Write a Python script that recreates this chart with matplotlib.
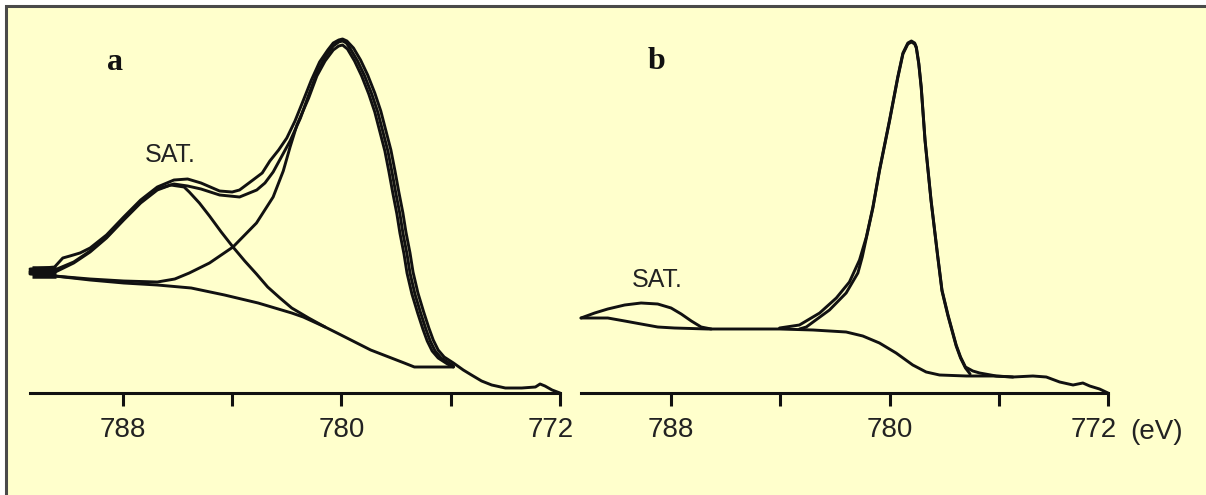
import matplotlib
matplotlib.use("Agg")
import matplotlib.pyplot as plt
from matplotlib.patches import Rectangle
from matplotlib.transforms import ScaledTranslation

W, H = 1206, 495
CREAM = "#FFFFCC"
INK = "#111111"

# ---- panel a : binding energy (eV) / intensity (arb.) ----
data_a_ev = [791.4, 790.9, 790.5, 790.2, 789.94, 789.57, 789.2, 788.6, 787.97, 787.35,
             786.74, 786.13, 785.63, 785.14, 784.46, 784.0, 783.73, 783.24, 782.9, 782.62,
             782.3, 782.0, 781.7, 781.39, 781.1, 780.8, 780.5, 780.3, 780.1, 779.96,
             779.8, 779.56, 779.3, 779.04, 778.78, 778.56, 778.38, 778.19, 778.04, 777.9,
             777.75, 777.64, 777.49, 777.38, 777.2, 776.99, 776.8, 776.64, 776.46, 776.24,
             775.9, 775.54, 775.24, 774.87, 774.5, 774.0, 773.4, 772.9, 772.73, 772.55,
             772.29, 772.0]
data_a_int = [124, 125, 126, 135, 137, 140, 145, 158, 176, 193,
              206, 213, 214, 210, 202, 201, 203, 213, 220, 232,
              243, 255, 272, 293, 313, 331, 343, 350, 353, 354,
              352, 345, 333, 318, 300, 282, 263, 243, 222, 201,
              180, 161, 140, 121, 100, 81, 65, 53, 43, 36,
              30, 23, 18, 12, 8, 5, 5, 6, 9, 7,
              3, 0]

fit_a_ev = [791.4, 790.5, 789.8, 789.2, 788.6, 787.97, 787.35, 786.74, 786.13, 785.63,
            785.14, 784.46, 783.73, 783.1, 782.8, 782.5, 782.2, 781.88, 781.5, 781.2,
            780.9, 780.6, 780.3, 780.1, 779.96, 779.82, 779.67, 779.41,
            779.15, 778.89, 778.67, 778.49, 778.3, 778.15, 778.01, 777.86, 777.75, 777.6,
            777.49, 777.31, 777.1, 776.91, 776.75, 776.57, 776.35, 776.01, 775.9]
fit_a_int = [122, 123, 131, 142, 156, 174, 191, 204, 209, 207,
             204, 198, 196, 203, 210, 221, 236, 252, 275, 298,
             320, 336, 347, 351, 352, 350, 344, 332,
             317, 299, 281, 262, 242, 221, 200, 179, 160, 139,
             120, 99, 80, 64, 52, 42, 35, 29, 27]

main_a_ev = [791.4, 790.5, 789.2, 787.97, 786.74, 786.1, 785.57, 784.83, 783.97, 783.11,
             782.5, 782.13, 781.88, 781.63, 781.2, 780.9, 780.6, 780.3, 780.1, 779.96,
             779.78, 779.52, 779.26, 779.0, 778.78, 778.6, 778.41, 778.26, 778.12, 777.97,
             777.86, 777.71, 777.6, 777.42, 777.21, 777.02, 776.86, 776.68, 776.46, 776.12,
             775.9]
main_a_int = [119, 117, 114, 112, 111, 114, 120, 130, 146, 170,
              196, 222, 246, 268, 295, 317, 332, 343, 347, 348,
              344, 332, 317, 299, 281, 262, 242, 221, 200, 179,
              160, 139, 120, 99, 80, 64, 52, 42, 35, 29,
              26]

sat_a_ev = [791.4, 790.55, 789.8, 789.2, 788.6, 787.97, 787.35, 786.74, 786.25, 785.76,
            785.57, 785.2, 784.83, 784.4, 783.97, 783.54, 783.11, 782.7, 782.25, 781.82,
            781.2, 780.6]
sat_a_int = [121, 120, 130, 141, 155, 173, 190, 203, 208, 206,
             201, 190, 177, 161, 146, 132, 119, 106, 95, 85,
             75, 66]

bg_a_ev = [791.4, 790.5, 789.2, 787.97, 786.74, 785.5, 784.28, 783.05, 781.82, 781.4,
           780.6, 780.16, 778.93, 777.7, 777.33, 776.5, 775.9]
bg_a_int = [120, 117, 113, 110, 108, 105, 98, 90, 80, 76,
            66, 60, 43, 30, 26, 26, 26]

blob_a_ev = [791.32, 790.45]
blob_a_int = [121, 121]

# ---- panel b ----
data_b_ev = [784.03, 783.3, 782.56, 781.95, 781.47, 781.1, 780.85, 780.61, 780.37, 780.0,
             779.7, 779.51, 779.33, 779.2, 779.08, 779.02, 778.93, 778.84, 778.7, 778.48,
             778.24, 778.08, 777.86, 777.56, 777.4, 777.22, 776.95, 776.7, 776.09, 775.48,
             774.75, 774.26, 773.77, 773.28, 772.92, 772.67, 772.31, 772.0]
data_b_int = [65, 68, 80, 95, 111, 133, 156, 186, 223, 273,
              316, 340, 350, 352, 350, 346, 330, 306, 253, 193,
              138, 103, 78, 48, 36, 26, 22, 20, 17, 16,
              17, 16, 11, 8, 10, 7, 4, 0]

comp_b_ev = [783.3, 783.05, 782.2, 781.59, 781.16, 781.0, 780.85, 780.61, 780.37, 780.0,
             779.7, 779.51, 779.33, 779.2, 779.08, 779.02, 778.93, 778.84, 778.7, 778.48,
             778.24, 778.08, 777.86, 777.56, 777.4, 777.22, 777.05]
comp_b_int = [64, 66, 83, 100, 120, 136, 155, 185, 222, 272,
              315, 339, 349, 351, 349, 345, 329, 305, 252, 192,
              137, 102, 77, 47, 35, 25, 19]

sat_b_ev = [791.3, 790.8, 790.32, 789.7, 789.1, 788.49, 788.0, 787.63, 787.26, 786.9,
            786.53]
sat_b_int = [75, 80, 84, 88, 90, 89, 85, 79, 72, 66,
             64]

bg_b_ev = [791.3, 790.32, 789.7, 789.1, 788.49, 787.88, 786.67, 785.5, 784.03, 782.8,
           781.59, 780.98, 780.37, 779.76, 779.15, 778.66, 778.17, 777.19, 776.21, 775.48]
bg_b_int = [75, 75, 72, 69, 66, 65, 64, 64, 64, 63,
            61, 57, 50, 40, 28, 21, 18, 17, 17, 16]

tick_pos = [788, 784, 780, 776, 772]
tick_lab = ["788", "", "780", "", "772"]

SANS = ["Liberation Sans", "DejaVu Sans"]
SERIF = ["Liberation Serif", "DejaVu Serif"]

fig = plt.figure(figsize=(W / 100, H / 100), dpi=100)
fig.patch.set_facecolor("white")
fig.patches.append(Rectangle((6 / W, -0.02), 1.1, (H - 6) / H + 0.02,
                             transform=fig.transFigure, facecolor=CREAM,
                             edgecolor="#4a4a4a", lw=2.2, zorder=-5))


def px_axes(left, right, top, bottom):
    return fig.add_axes([left / W, 1 - bottom / H, (right - left) / W, (bottom - top) / H])


def style(ax, x0):
    ax.set_facecolor("none")
    ax.set_xlim(x0, 772.0)
    ax.set_ylim(0, 363)
    for s in ("left", "right", "top"):
        ax.spines[s].set_visible(False)
    ax.spines["bottom"].set_linewidth(2.2)
    ax.spines["bottom"].set_color(INK)
    ax.set_yticks([])
    ax.set_xticks(tick_pos)
    ax.set_xticklabels(tick_lab)
    ax.tick_params(axis="x", direction="out", length=9, width=2.2, color=INK,
                   pad=8, labelsize=20, labelcolor="#222222")
    for lab in ax.get_xticklabels():
        lab.set_family(SANS)


def curve(ax, ev, inten, lw=2.1):
    ax.plot(ev, inten, color=INK, lw=lw, clip_on=False,
            solid_joinstyle="round", solid_capstyle="round")


ax_a = px_axes(30, 560, 30, 393)
style(ax_a, 791.4)
for ev, it in [(bg_a_ev, bg_a_int), (sat_a_ev, sat_a_int), (main_a_ev, main_a_int),
               (fit_a_ev, fit_a_int), (data_a_ev, data_a_int)]:
    curve(ax_a, ev, it)
ax_a.plot(blob_a_ev, blob_a_int, color=INK, lw=9, solid_capstyle="butt", clip_on=False)

ax_b = px_axes(581, 1108, 30, 393)
style(ax_b, 791.3)
for ev, it in [(bg_b_ev, bg_b_int), (sat_b_ev, sat_b_int), (comp_b_ev, comp_b_int),
               (data_b_ev, data_b_int)]:
    curve(ax_b, ev, it)

# last labels sit a bit left of the end tick
for ax, dx in ((ax_a, -9), (ax_b, -14)):
    lab = ax.get_xticklabels()[-1]
    lab.set_transform(lab.get_transform() + ScaledTranslation(dx / 100, 0, fig.dpi_scale_trans))

fig.text(1130 / W, 1 - 439 / H, "(eV)", fontsize=20, family=SANS, color="#222222",
         ha="left", va="baseline")

fig.text(170 / W, 1 - 162 / H, "SAT.", fontsize=18, family=SANS, color="#222222",
         ha="center", va="baseline")
fig.text(657.5 / W, 1 - 287 / H, "SAT.", fontsize=18, family=SANS, color="#222222",
         ha="center", va="baseline")

fig.text(114.5 / W, 1 - 70 / H, "a", fontsize=23, family=SERIF, weight="bold",
         color=INK, ha="center", va="baseline")
fig.text(656.7 / W, 1 - 69 / H, "b", fontsize=23, family=SERIF, weight="bold",
         color=INK, ha="center", va="baseline")

fig.savefig("out.png", dpi=100, facecolor=fig.get_facecolor())
